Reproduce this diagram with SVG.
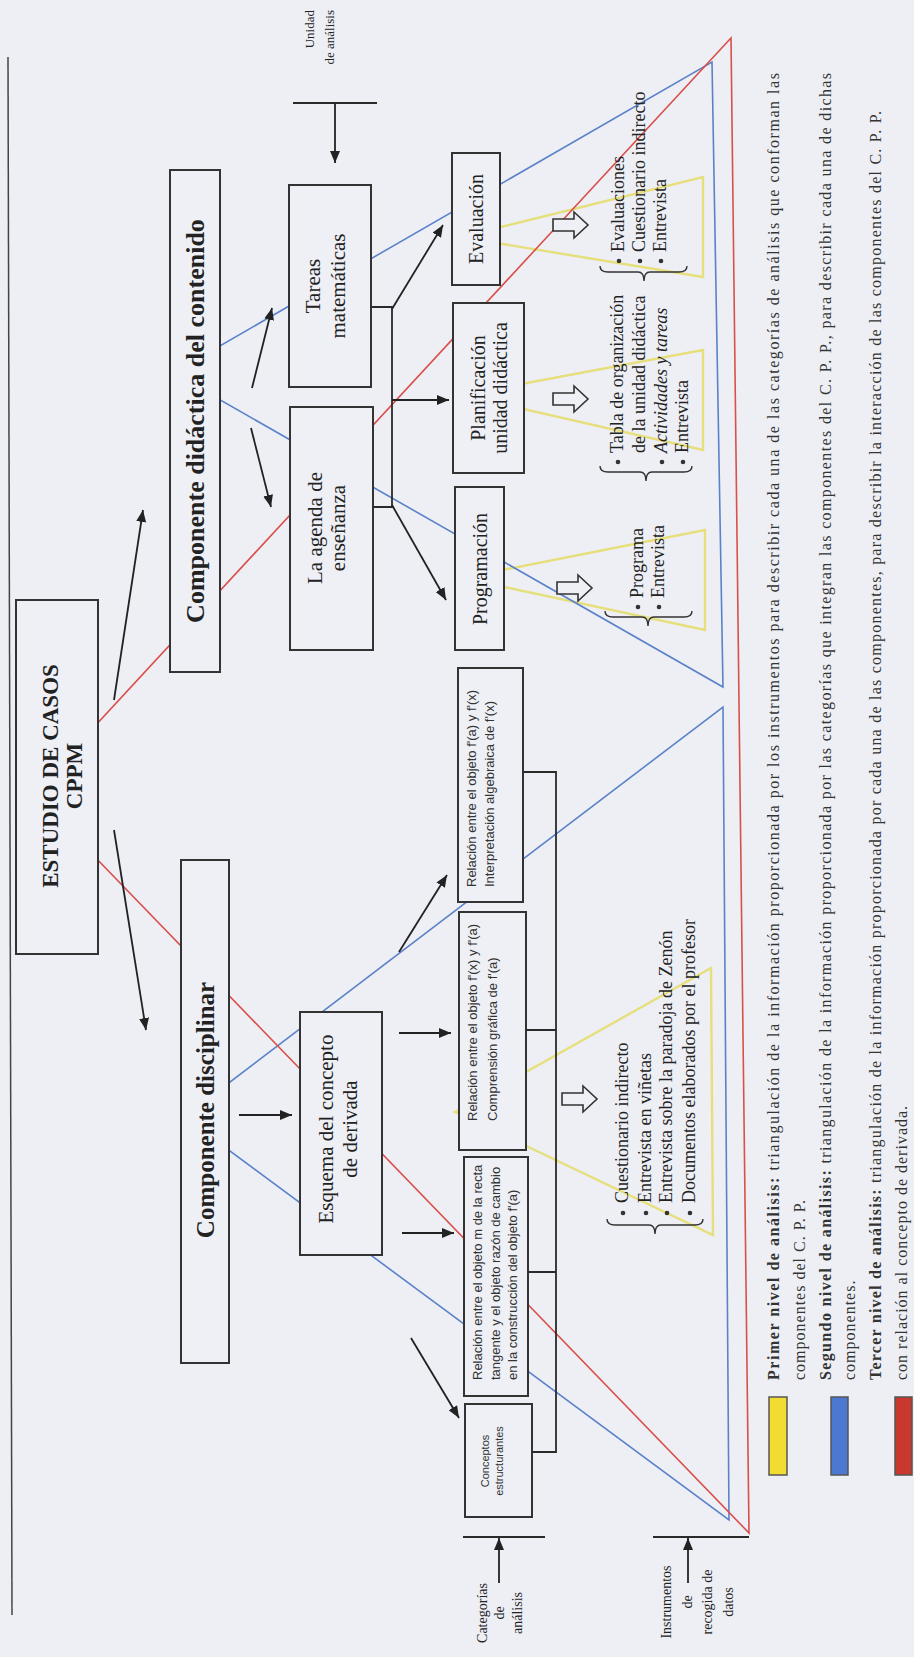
<svg xmlns="http://www.w3.org/2000/svg" width="914" height="1657" viewBox="0 0 914 1657">
  <defs>
    <marker id="ah" viewBox="0 0 12 10" refX="12" refY="5" markerWidth="12" markerHeight="10" orient="auto" markerUnits="userSpaceOnUse">
      <path d="M0,0 L12,5 L0,10 Z" fill="#222"/>
    </marker>
    <style>
      .bx { fill: #eef0f6; stroke: #333; stroke-width: 2; }
      .ln { fill: none; stroke: #2a2a2a; stroke-width: 1.8; }
      .ar { fill: none; stroke: #222; stroke-width: 1.8; marker-end: url(#ah); }
      .ho { fill: #eef0f6; stroke: #333; stroke-width: 1.6; }
      .br { fill: none; stroke: #333; stroke-width: 1.4; }
      .dot { fill: #333; }
      .tri-y { fill: none; stroke: #e6df7c; stroke-width: 2.4; }
      .tri-b { fill: none; stroke: #5b82c9; stroke-width: 1.6; }
      .tri-r { fill: none; stroke: #d9504a; stroke-width: 1.6; }
      text { fill: #222; font-family: "Liberation Serif", "Times New Roman", serif; }
      .title { font-size: 23px; font-weight: bold; text-anchor: middle; }
      .comp { font-size: 26px; font-weight: bold; text-anchor: middle; }
      .t21 { font-size: 21px; text-anchor: middle; }
      .t20 { font-size: 20px; text-anchor: middle; }
      .cat { font-family: "Liberation Sans", Arial, sans-serif; font-size: 13px; fill: #333; }
      .cat2 { font-family: "Liberation Sans", Arial, sans-serif; font-size: 11px; fill: #333; text-anchor: middle; }
      .li { font-size: 18px; }
      .it { font-style: italic; }
      .lab { font-size: 14px; text-anchor: middle; }
      .lab-end { font-size: 13px; text-anchor: end; }
      .leg { font-size: 16px; letter-spacing: 1px; fill: #333; }
      .legb { font-weight: bold; }
    </style>
  </defs>

  <rect x="0" y="0" width="914" height="1657" fill="#edeff5"/>

  <!-- the whole page is laid out sideways: local u runs bottom-to-top, v runs left-to-right -->
  <g transform="translate(0 1657) rotate(-90)">

    <!-- page rule -->
    <line x1="42" y1="12" x2="1600" y2="8" stroke="#444" stroke-width="1.5"/>

    <!-- triangulation levels -->
    <g id="triangles">
      <polygon class="tri-y" points="545,455 689,711 422,713"/>
      <polygon class="tri-y" points="1079,462 1127,705 1027,705"/>
      <polygon class="tri-y" points="1262,462 1307,703 1207,703"/>
      <polygon class="tri-y" points="1420,460 1480,703 1380,703"/>
      <polygon class="tri-b" points="1284,173 1595,712 970,723"/>
      <polygon class="tri-b" points="540,184 950,723 137,729"/>
      <polygon class="tri-r" points="864,33 1619,731 124,749"/>
    </g>

    <g id="n-estudio">
      <rect class="bx" x="703" y="16" width="354" height="82"/>
      <text class="title" x="881" y="58">ESTUDIO DE CASOS</text>
      <text class="title" x="881" y="82">CPPM</text>
    </g>

    <g id="n-didactica">
      <rect class="bx" x="985" y="170" width="502" height="50"/>
      <text class="comp" x="1236" y="204">Componente didáctica del contenido</text>
    </g>

    <g id="n-disciplinar">
      <rect class="bx" x="294" y="181" width="503" height="48"/>
      <text class="comp" x="547" y="214" style="font-size:25px">Componente disciplinar</text>
    </g>

    <g id="n-esquema">
      <rect class="bx" x="402" y="300" width="243" height="82"/>
      <text class="t21" x="528" y="333">Esquema del concepto</text>
      <text class="t21" x="528" y="357">de derivada</text>
    </g>

    <g id="n-tareas">
      <rect class="bx" x="1270" y="289" width="202" height="82"/>
      <text class="t21" x="1371" y="320">Tareas</text>
      <text class="t21" x="1371" y="345">matemáticas</text>
    </g>

    <g id="n-agenda">
      <rect class="bx" x="1007" y="290" width="243" height="83"/>
      <text class="t21" x="1129" y="322">La agenda de</text>
      <text class="t21" x="1129" y="345">enseñanza</text>
    </g>

    <g id="n-programacion">
      <rect class="bx" x="1007" y="455" width="163" height="49"/>
      <text class="t20" x="1088" y="487">Programación</text>
    </g>

    <g id="n-planificacion">
      <rect class="bx" x="1184" y="453" width="170" height="71"/>
      <text class="t20" x="1269" y="485">Planificación</text>
      <text class="t20" x="1269" y="507">unidad didáctica</text>
    </g>

    <g id="n-evaluacion">
      <rect class="bx" x="1372" y="452" width="132" height="48"/>
      <text class="t20" x="1438" y="483">Evaluación</text>
    </g>

    <g id="n-cat-a">
      <rect class="bx" x="755" y="458" width="234" height="65"/>
      <text class="cat" x="770" y="476">Relación entre el objeto f'(a) y f'(x)</text>
      <text class="cat" x="770" y="494">Interpretación algebraica de f'(x)</text>
    </g>

    <g id="n-cat-b">
      <rect class="bx" x="507" y="459" width="238" height="67"/>
      <text class="cat" x="536" y="477">Relación entre el objeto f'(x) y f'(a)</text>
      <text class="cat" x="536" y="497">Comprensión gráfica de f'(a)</text>
    </g>

    <g id="n-cat-c">
      <rect class="bx" x="261" y="464" width="239" height="64"/>
      <text class="cat" x="277" y="482">Relación entre el objeto m de la recta</text>
      <text class="cat" x="277" y="500">tangente y el objeto razón de cambio</text>
      <text class="cat" x="277" y="517">en la construcción del objeto f'(a)</text>
    </g>

    <g id="n-cat-d">
      <rect class="bx" x="140" y="465" width="113" height="67"/>
      <text class="cat2" x="196" y="489">Conceptos</text>
      <text class="cat2" x="196" y="503">estructurantes</text>
    </g>

    <!-- instrument lists -->
    <g id="n-inst-disciplinar">
      <path class="ho" d="M552,562 L564,562 L564,583 L571,583 L558,597 L545,583 L552,583 Z"/>
      <path class="br" d="M438,607 Q432,607 432,615 L432,649 Q432,655 423,655 Q432,655 432,661 L432,695 Q432,703 438,703"/>
      <circle class="dot" cx="444" cy="623" r="2.3"/>
      <circle class="dot" cx="444" cy="646" r="2.3"/>
      <circle class="dot" cx="444" cy="667" r="2.3"/>
      <circle class="dot" cx="444" cy="690" r="2.3"/>
      <text class="li" x="454" y="628">Cuestionario indirecto</text>
      <text class="li" x="454" y="651">Entrevista en viñetas</text>
      <text class="li" x="454" y="672">Entrevista sobre la paradoja de Zenón</text>
      <text class="li" x="454" y="695">Documentos elaborados por el profesor</text>
    </g>

    <g id="n-inst-programacion">
      <path class="ho" d="M1063,557 L1075,557 L1075,578 L1082,578 L1069,592 L1056,578 L1063,578 Z"/>
      <path class="br" d="M1046,605 Q1040,605 1040,613 L1040,642 Q1040,648 1031,648 Q1040,648 1040,654 L1040,684 Q1040,692 1046,692"/>
      <circle class="dot" cx="1050" cy="638" r="2.3"/>
      <circle class="dot" cx="1050" cy="659" r="2.3"/>
      <text class="li" x="1059" y="643">Programa</text>
      <text class="li" x="1059" y="664">Entrevista</text>
    </g>

    <g id="n-inst-planificacion">
      <path class="ho" d="M1252,553 L1264,553 L1264,574 L1271,574 L1258,588 L1245,574 L1252,574 Z"/>
      <path class="br" d="M1191,600 Q1185,600 1185,608 L1185,640 Q1185,646 1176,646 Q1185,646 1185,652 L1185,684 Q1185,692 1191,692"/>
      <circle class="dot" cx="1195" cy="618" r="2.3"/>
      <circle class="dot" cx="1195" cy="662" r="2.3"/>
      <circle class="dot" cx="1195" cy="683" r="2.3"/>
      <text class="li" x="1204" y="623">Tabla de organización</text>
      <text class="li" x="1204" y="645">de la unidad didáctica</text>
      <text class="li it" x="1204" y="667">Actividades y tareas</text>
      <text class="li" x="1204" y="688">Entrevista</text>
    </g>

    <g id="n-inst-evaluacion">
      <path class="ho" d="M1426,553 L1438,553 L1438,574 L1445,574 L1432,588 L1419,574 L1426,574 Z"/>
      <path class="br" d="M1391,600 Q1385,600 1385,608 L1385,638 Q1385,644 1376,644 Q1385,644 1385,650 L1385,679 Q1385,687 1391,687"/>
      <circle class="dot" cx="1396" cy="619" r="2.3"/>
      <circle class="dot" cx="1396" cy="640" r="2.3"/>
      <circle class="dot" cx="1396" cy="661" r="2.3"/>
      <text class="li" x="1405" y="624">Evaluaciones</text>
      <text class="li" x="1405" y="645">Cuestionario indirecto</text>
      <text class="li" x="1405" y="666">Entrevista</text>
    </g>

    <!-- level labels -->
    <g id="n-unidad">
      <text class="lab-end" x="1647" y="314">Unidad</text>
      <text class="lab-end" x="1647" y="334">de análisis</text>
    </g>
    <g id="n-categorias">
      <text class="lab" x="44" y="487">Categorías</text>
      <text class="lab" x="44" y="504">de</text>
      <text class="lab" x="44" y="522">análisis</text>
    </g>
    <g id="n-instrumentos">
      <text class="lab" x="55" y="671">Instrumentos</text>
      <text class="lab" x="55" y="692">de</text>
      <text class="lab" x="55" y="712">recogida de</text>
      <text class="lab" x="55" y="733">datos</text>
    </g>

    <!-- connectors -->
    <g id="connectors">
      <line class="ar" x1="957" y1="114" x2="1147" y2="143"/>
      <line class="ar" x1="827" y1="114" x2="627" y2="146"/>
      <line class="ar" x1="1269" y1="252" x2="1349" y2="272"/>
      <line class="ar" x1="1229" y1="251" x2="1150" y2="271"/>
      <path class="ln" d="M1350,371 L1350,392 L1150,392 L1150,373"/>
      <line class="ar" x1="1348" y1="392" x2="1432" y2="443"/>
      <line class="ar" x1="1257" y1="392" x2="1257" y2="449"/>
      <line class="ar" x1="1152" y1="392" x2="1057" y2="446"/>
      <line class="ar" x1="542" y1="239" x2="542" y2="292"/>
      <line class="ar" x1="705" y1="399" x2="782" y2="447"/>
      <line class="ar" x1="624" y1="399" x2="624" y2="451"/>
      <line class="ar" x1="424" y1="402" x2="424" y2="454"/>
      <line class="ar" x1="319" y1="411" x2="239" y2="459"/>
      <path class="ln" d="M885,523 L885,556 L205,556 L205,532 M627,526 L627,556 M385,528 L385,556"/>
      <line class="ln" x1="1554" y1="293" x2="1554" y2="377"/>
      <line class="ar" x1="1554" y1="335" x2="1494" y2="335"/>
      <line class="ln" x1="120" y1="463" x2="120" y2="545"/>
      <line class="ar" x1="74" y1="499" x2="119" y2="499"/>
      <line class="ln" x1="120" y1="653" x2="120" y2="749"/>
      <line class="ar" x1="74" y1="688" x2="119" y2="688"/>
    </g>

    <!-- legend -->
    <g id="legend">
      <rect x="182" y="769" width="78" height="18" fill="#f2dc32" stroke="#555" stroke-width="1.5"/>
      <rect x="182" y="831" width="78" height="17" fill="#4b79d1" stroke="#555" stroke-width="1.5"/>
      <rect x="182" y="895" width="78" height="17" fill="#c9382f" stroke="#555" stroke-width="1.5"/>
      <text class="leg" x="277" y="779" textLength="1308" lengthAdjust="spacing"><tspan class="legb">Primer nivel de análisis:</tspan> triangulación de la información proporcionada por los instrumentos para describir cada una de las categorías de análisis que conforman las</text>
      <text class="leg" x="277" y="805">componentes del C. P. P.</text>
      <text class="leg" x="277" y="831" textLength="1308" lengthAdjust="spacing"><tspan class="legb">Segundo nivel de análisis:</tspan> triangulación de la información proporcionada por las categorías que integran las componentes del C. P. P., para describir cada una de dichas</text>
      <text class="leg" x="277" y="855">componentes.</text>
      <text class="leg" x="277" y="881" textLength="1270" lengthAdjust="spacing"><tspan class="legb">Tercer nivel de análisis:</tspan> triangulación de la información proporcionada por cada una de las componentes, para describir la interacción de las componentes del C. P. P.</text>
      <text class="leg" x="277" y="907">con relación al concepto de derivada.</text>
    </g>
  </g>
</svg>
